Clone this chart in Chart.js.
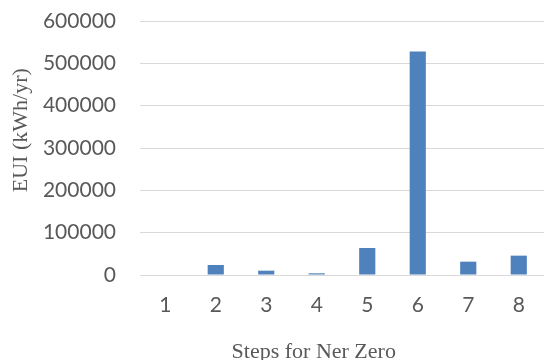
<!DOCTYPE html>
<html>
<head>
<meta charset="utf-8">
<script src="https://cdn.jsdelivr.net/npm/chart.js@4"></script>
<style>
  html, body { margin: 0; padding: 0; background: #fff; }
  #wrap { width: 544px; height: 360px; }
</style>
</head>
<body>
<div id="wrap"><canvas id="chart"></canvas></div>
<script>
const steps = ['1', '2', '3', '4', '5', '6', '7', '8'];
const eui = [0, 23600, 10200, 4000, 63800, 528000, 31500, 45700];
const yTitle = 'EUI (kWh/yr)';
const xTitle = 'Steps for Ner Zero';

const textGrey = '#595959';
const gridGrey = '#d9d9d9';

// axis titles are drawn by hand, Excel puts them off-centre
const axisTitles = {
  id: 'axisTitles',
  afterDraw(chart) {
    let ctx = chart.ctx;
    let area = chart.chartArea;
    ctx.save();
    ctx.fillStyle = textGrey;
    ctx.font = '22px "Liberation Serif"';
    ctx.textAlign = 'center';
    ctx.textBaseline = 'alphabetic';
    ctx.fillText(xTitle, area.left + area.width * 0.43, 358);
    ctx.translate(27, area.top + area.height * 0.43);
    ctx.rotate(-Math.PI / 2);
    ctx.fillText(yTitle, 0, 0);
    ctx.restore();
  }
};

new Chart(document.getElementById('chart'), {
  type: 'bar',
  data: {
    labels: steps,
    datasets: [{
      label: yTitle,
      data: eui,
      backgroundColor: '#4f81bd',
      borderWidth: 0,
      barPercentage: 0.32,
      categoryPercentage: 1
    }]
  },
  options: {
    responsive: true,
    maintainAspectRatio: false,
    animation: false,
    layout: { padding: { top: 21, left: 0, right: 0, bottom: 0 } },
    plugins: {
      legend: { display: false },
      tooltip: { enabled: false }
    },
    scales: {
      x: {
        grid: { display: false, drawTicks: false },
        border: { display: false },
        ticks: {
          color: textGrey,
          font: { family: 'Lato', size: 21 },
          padding: 18
        },
        afterFit(scale) { scale.height = 85; }
      },
      y: {
        min: 0,
        max: 600000,
        ticks: {
          stepSize: 100000,
          color: textGrey,
          font: { family: 'Lato', size: 21 },
          padding: 24,
          callback: v => String(v)
        },
        grid: { color: gridGrey, lineWidth: 1, drawTicks: false },
        border: { display: false },
        afterFit(scale) {
          scale.width = 140;
          scale.paddingTop = 0;
          scale.paddingBottom = 0;
        }
      }
    }
  },
  plugins: [axisTitles]
});
</script>
</body>
</html>
